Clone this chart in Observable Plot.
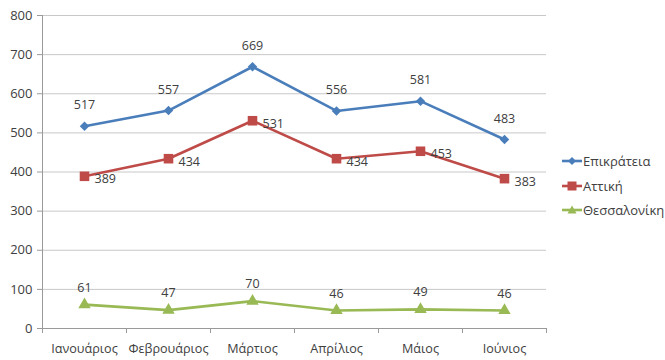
<!DOCTYPE html>
<html><head><meta charset="utf-8">
<script src="https://cdn.jsdelivr.net/npm/d3@7"></script>
<script src="https://cdn.jsdelivr.net/npm/@observablehq/plot@0.6"></script>
<style>
body{margin:0;background:#fff;font-family:"Open Sans",sans-serif;}
#wrap{position:relative;width:665px;height:360px;}
#legend{position:absolute;left:562px;top:149px;font-size:13px;color:#404040;}
.li{display:flex;align-items:center;height:24.5px;}
.li svg{margin-right:1px;}
</style></head><body>
<div id="wrap"><div id="chart"></div><div id="legend"></div></div>
<script>
const months = ["Ιανουάριος","Φεβρουάριος","Μάρτιος","Απρίλιος","Μάιος","Ιούνιος"];
const seriesNames = ["Επικράτεια","Αττική","Θεσσαλονίκη"];
const epikrateia = [517,557,669,556,581,483];
const attiki = [389,434,531,434,453,383];
const thessaloniki = [61,47,70,46,49,46];
const yTicks = [0,100,200,300,400,500,600,700,800];
const colors = ["#4A7EBB","#BE4B48","#98B954"];
const symbols = ["diamond2","square","triangle"];

const rows = [];
[epikrateia, attiki, thessaloniki].forEach((vals, s) => {
  vals.forEach((v, i) => rows.push({month: months[i], value: v, series: seriesNames[s]}));
});
const bySeries = name => rows.filter(d => d.series === name);

const W = 665, H = 360, mt = 15, mb = 32, ml = 42, mr = 119;
const step = (W - ml - mr) / months.length;

const chart = Plot.plot({
  width: W, height: H,
  marginTop: mt, marginBottom: mb, marginLeft: ml, marginRight: mr,
  style: {fontFamily: "'Open Sans', sans-serif", fontSize: "12px", color: "#404040", background: "#fff"},
  x: {type: "point", domain: months, padding: 0.5, label: null},
  y: {domain: [0, 800], label: null},
  color: {domain: seriesNames, range: colors},
  symbol: {domain: seriesNames, range: symbols},
  marks: [
    Plot.ruleY(yTicks, {stroke: "#c8c8c8", strokeWidth: 1}),
    Plot.ruleX([0], {x: () => months[0], dx: -step/2, stroke: "#9a9a9a"}),
    Plot.ruleX(months, {dx: -step/2, stroke: "#9a9a9a", insetTop: H - mt - mb, insetBottom: -5}),
    Plot.ruleX([months[months.length-1]], {dx: step/2, stroke: "#9a9a9a", insetTop: H - mt - mb, insetBottom: -5}),
    Plot.ruleY([0], {stroke: "#9a9a9a"}),
    Plot.axisY({ticks: yTicks, tickSize: 5, tickPadding: 5, stroke: "#9a9a9a", fill: "#404040", fontSize: 13}),
    Plot.axisX({tickSize: 0, tickPadding: 16, fill: "#404040", fontSize: 12.6}),
    ...seriesNames.map((name, s) =>
      Plot.line(bySeries(name), {x: "month", y: "value", stroke: colors[s], strokeWidth: 2.6})
    ),
    Plot.dot(bySeries(seriesNames[0]), {x: "month", y: "value", symbol: "series", fill: colors[0], r: 4.3}),
    Plot.dot(bySeries(seriesNames[1]), {x: "month", y: "value", symbol: "series", fill: colors[1], r: 5.4}),
    Plot.dot(bySeries(seriesNames[2]), {x: "month", y: "value", symbol: "series", fill: colors[2], r: 4.6}),
    Plot.text(bySeries(seriesNames[0]), {x: "month", y: "value", text: "value", dy: -21, fill: "#404040", fontSize: 12.5}),
    Plot.text(bySeries(seriesNames[1]), {x: "month", y: "value", text: "value", dx: 10, dy: 3, textAnchor: "start", fill: "#404040", fontSize: 12.5}),
    Plot.text(bySeries(seriesNames[2]), {x: "month", y: "value", text: "value", dy: -17, fill: "#404040", fontSize: 12.5})
  ]
});
document.getElementById("chart").appendChild(chart);

const legend = document.getElementById("legend");
const sym = {
  diamond2: '<path d="M10,4 L14,8 L10,12 L6,8 Z"/>',
  square: '<rect x="5.5" y="3.5" width="9" height="9"/>',
  triangle: '<path d="M10,3.5 L14.5,11.5 L5.5,11.5 Z"/>'
};
seriesNames.forEach((name, s) => {
  const d = document.createElement("div");
  d.className = "li";
  d.innerHTML = `<svg width="20" height="16"><line x1="0" x2="20" y1="8" y2="8" stroke="${colors[s]}" stroke-width="2.6"/><g fill="${colors[s]}">${sym[symbols[s]]}</g></svg><span>${name}</span>`;
  legend.appendChild(d);
});
</script>
</body></html>
